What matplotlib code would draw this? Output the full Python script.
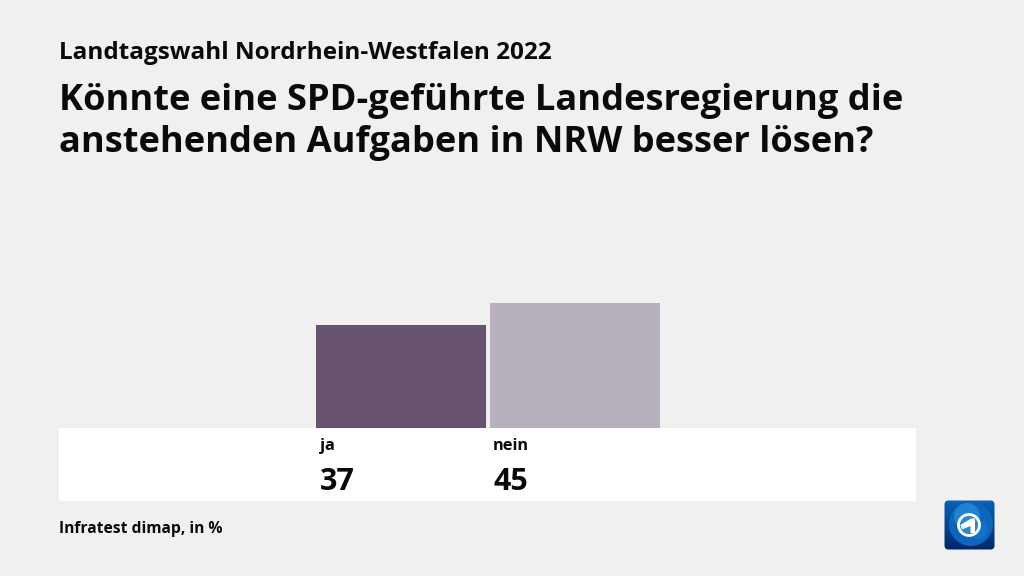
import numpy as np
import matplotlib
matplotlib.use("Agg")
import matplotlib.pyplot as plt
from matplotlib.patches import Rectangle, FancyBboxPatch, Circle, Polygon

categories = ["ja", "nein"]
values = [37, 45]
colors = ["#67526F", "#B8B0BC"]
suptitle = "Landtagswahl Nordrhein-Westfalen 2022"
title_lines = ["Könnte eine SPD-geführte Landesregierung die",
               "anstehenden Aufgaben in NRW besser lösen?"]
source = "Infratest dimap, in %"

W, H = 1024, 576
BG = "#F0F0F1"
plt.rcParams["font.family"] = ["Open Sans", "Noto Sans", "DejaVu Sans"]
fig = plt.figure(figsize=(W / 100, H / 100), dpi=100, facecolor=BG)

# full-figure pixel-space overlay
bg = fig.add_axes([0, 0, 1, 1], zorder=0)
bg.set_xlim(0, W); bg.set_ylim(H, 0); bg.axis("off")
bg.add_patch(Rectangle((59, 428), 857, 73, fc="white", ec="none"))

TXT = "#0A0A0A"
bg.text(59, 53, suptitle, fontsize=17.45, fontweight="bold", color=TXT, va="center", ha="left")
bg.text(59, 101, title_lines[0], fontsize=26.1, fontweight="bold", color=TXT, va="center", ha="left")
bg.text(59, 143, title_lines[1], fontsize=26.1, fontweight="bold", color=TXT, va="center", ha="left")
bg.text(59, 529, source, fontsize=11.27, fontweight="bold", color=TXT, va="center", ha="left")

# bars
px_per_unit = 2.78
step = 174
ax_left = 316 + 84.75 - step / 2
ax_w = step * 2
ax_h = 250
ax = fig.add_axes([ax_left / W, (H - 428) / H, ax_w / W, ax_h / H], zorder=1)
ax.set_xlim(-0.5, 1.5)
ax.set_ylim(0, ax_h / px_per_unit)
ax.axis("off")
x = np.arange(len(categories))
ax.bar(x, values, width=169.5 / step, color=colors, linewidth=0)

# labels below bars
for xi, c, v, lx in zip(x, categories, values, [320, 493]):
    bg.text(lx, 445.5, c, fontsize=11.8, fontweight="bold", color=TXT, va="center", ha="left", zorder=3)
    bg.text(lx, 482, str(v), fontsize=22, fontweight="bold", color=TXT, va="center", ha="left", zorder=3)

# logo
logo = fig.add_axes([944 / W, (H - 550) / H, 51 / W, 50 / H], zorder=2)
logo.set_xlim(0, 51); logo.set_ylim(50, 0); logo.axis("off")
yy, xx = np.mgrid[0:1:100j, 0:1:100j]
c0, c1 = np.array([0x0A, 0x62, 0xB8]), np.array([0x02, 0x26, 0x68])
t = yy[..., None]
grad = (c0 * (1 - t) + c1 * t) / 255
im = logo.imshow(grad, extent=(0, 51, 50, 0), aspect="auto", interpolation="bilinear")
clip = FancyBboxPatch((0.5, 0.5), 50, 49, boxstyle="round,pad=0,rounding_size=4", fc="none", ec="none",
                      transform=logo.transData)
logo.add_patch(clip)
im.set_clip_path(clip)
logo.add_patch(Circle((27, 24), 22, fc="#0E66BC", ec="none"))
logo.add_patch(Circle((23, 16), 13, fc="#2A8FDC", ec="none", alpha=0.7))
logo.add_patch(Circle((35, 30), 9, fc="#1A7AD0", ec="none", alpha=0.6))
logo.add_patch(Circle((25, 25), 10.5, fc="#2F86CC", ec="white", lw=2.0))
logo.add_patch(Polygon([[16.5, 25], [27, 18.5], [31, 18.5], [31, 33], [26.5, 33], [26.5, 26], [18, 29.5]],
                       closed=True, fc="white", ec="none"))
logo.set_xlim(0, 51); logo.set_ylim(50, 0)

fig.savefig("out.png", dpi=100, facecolor=BG)
